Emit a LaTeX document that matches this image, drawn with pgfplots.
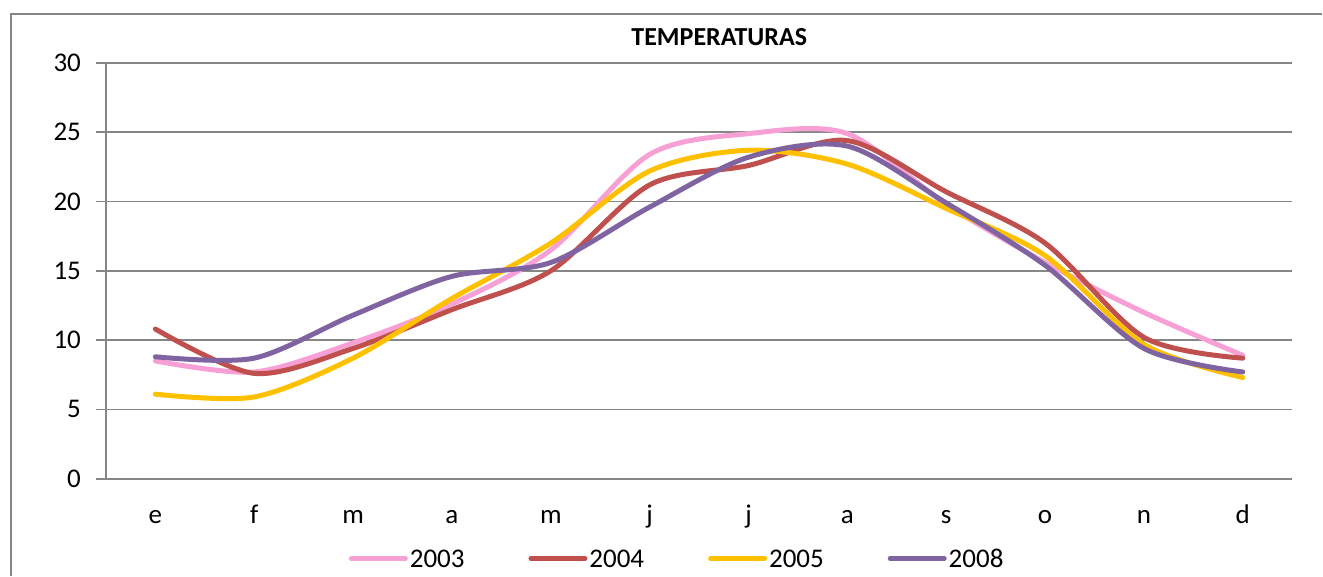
\documentclass[border=0pt]{standalone}
\usepackage{fontspec}
\setmainfont{Carlito}
\usepackage{pgfplots}
\pgfplotsset{compat=1.18}

\definecolor{c2003}{RGB}{247,160,214}
\definecolor{c2004}{RGB}{192,80,77}
\definecolor{c2005}{RGB}{255,192,0}
\definecolor{c2008}{RGB}{128,100,162}
\definecolor{axisgrey}{RGB}{134,134,134}

\begin{document}
\begin{tikzpicture}
\begin{axis}[
    scale only axis,
    width=593.5pt, height=208pt,
    xmin=-0.5, xmax=11.5,
    ymin=0, ymax=30,
    ytick={0,5,...,30},
    xtick={0,...,11},
    xticklabels={e,f,m,a,m,j,j,a,s,o,n,d},
    extra x ticks={-0.5,0.5,...,11.5},
    extra x tick labels={},
    extra x tick style={major tick length=5pt, tick style={axisgrey, line width=0.8pt}},
    major x tick style={draw=none},
    ymajorgrids=true,
    grid style={axisgrey, line width=0.8pt},
    axis line style={axisgrey, line width=0.8pt},
    axis x line*=bottom,
    axis y line*=left,
    y tick style={axisgrey, line width=0.8pt},
    tick align=outside,
    major tick length=5pt,
    tick pos=left,
    ticklabel style={font=\fontsize{13.5}{15}\selectfont},
    /pgf/number format/assume math mode=true,
    xticklabel style={anchor=base, yshift=-17.5pt},
    yticklabel style={xshift=-4pt},
    title={TEMPERATURAS},
    title style={font=\bfseries\fontsize{13}{15}\selectfont, at={(axis description cs:0.517,1)}, yshift=-1pt},
    legend columns=4,
    legend style={draw=none, at={(0.4815,-0.192)}, anchor=center,
        font=\fontsize{13.5}{15}\selectfont,
        nodes={inner sep=1pt, text height=9pt, text depth=0pt},
        /tikz/every even column/.append style={column sep=31pt}},
    legend image code/.code={\draw[#1, line width=2.5pt, line cap=round] (0pt,0pt) -- (27pt,0pt);},
    every axis plot/.append style={line width=2.5pt, smooth, tension=0.5, line cap=round, mark=none},
    clip=false,
]
\addplot[c2003] coordinates {
 (0,8.5) (1,7.7) (2,9.8) (3,12.6) (4,16.5) (5,23.4) (6,24.9) (7,24.9) (8,19.8) (9,15.6) (10,12.0) (11,8.9)
};
\addplot[c2004] coordinates {
 (0,10.8) (1,7.6) (2,9.4) (3,12.2) (4,15.0) (5,21.2) (6,22.6) (7,24.4) (8,20.7) (9,17.0) (10,10.2) (11,8.7)
};
\addplot[c2005] coordinates {
 (0,6.1) (1,5.9) (2,8.7) (3,13.0) (4,17.0) (5,22.2) (6,23.7) (7,22.7) (8,19.5) (9,16.1) (10,9.7) (11,7.3)
};
\addplot[c2008] coordinates {
 (0,8.8) (1,8.7) (2,11.8) (3,14.6) (4,15.6) (5,19.6) (6,23.2) (7,24.0) (8,19.9) (9,15.4) (10,9.4) (11,7.7)
};
\legend{2003,2004,2005,2008}
\end{axis}
\draw[axisgrey, line width=0.8pt] ([xshift=-47.5pt]current axis.south west) ++(0,-48.5pt) -- ([xshift=-47.5pt,yshift=24.5pt]current axis.north west) -- ([xshift=15pt,yshift=24.5pt]current axis.north east);
\useasboundingbox ([xshift=-53pt,yshift=-48.5pt]current axis.south west) rectangle ([xshift=15pt,yshift=31.5pt]current axis.north east);
\end{tikzpicture}
\end{document}
